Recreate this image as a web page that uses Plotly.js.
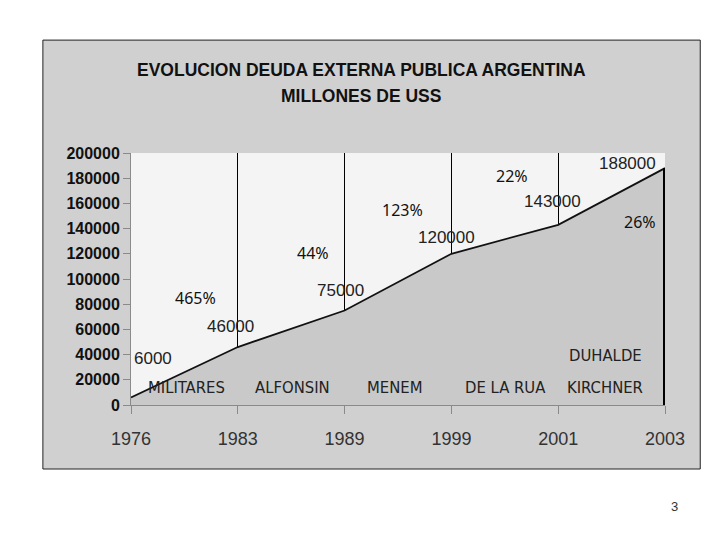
<!DOCTYPE html>
<html>
<head>
<meta charset="utf-8">
<script src="https://cdn.plot.ly/plotly-3.0.1.min.js"></script>
<style>
  html, body { margin: 0; padding: 0; background: #ffffff; }
  #plot { width: 720px; height: 540px; }
</style>
</head>
<body>
<div id="plot"></div>
<script>
// Data
let years = ["1976", "1983", "1989", "1999", "2001", "2003"];
let debt = [6000, 46000, 75000, 120000, 143000, 188000];
let growth = ["465%", "44%", "123%", "22%", "26%"];
let presidents = [["MILITARES"], ["ALFONSIN"], ["MENEM"], ["DE LA RUA"], ["DUHALDE", "KIRCHNER"]];

// Label placement (pixel offsets / positions in axis units)
let valueShift = [[1, 39, "left"], [-7, 21, "center"], [-4, 20, "center"], [-5, 16, "center"], [-6, 23, "center"], [-7, 5, "right"]];
let growthPos = [[0.60, 84900], [1.70, 120600], [2.54, 154800], [3.57, 181700], [4.77, 145200]];
let nameX = [0.52, 1.51, 2.47, 3.51, 4.44];

let area = {
  x: years,
  y: debt,
  type: "scatter",
  mode: "lines",
  fill: "tozeroy",
  fillcolor: "#c9c9c9",
  line: { color: "#111111", width: 1.8 },
  hoverinfo: "skip"
};

// thick edge at the last year
let last = years.length - 1;
let edge = {
  x: [years[last], years[last]],
  y: [0, debt[last]],
  type: "scatter",
  mode: "lines",
  line: { color: "#000000", width: 4 },
  hoverinfo: "skip"
};

let annotations = [];

debt.forEach(function (v, i) {
  annotations.push({
    x: i, y: v, xref: "x", yref: "y",
    text: String(v), showarrow: false,
    xanchor: valueShift[i][2], yanchor: "middle",
    xshift: valueShift[i][0], yshift: valueShift[i][1],
    font: { family: "Arial, Liberation Sans", size: 17, color: "#222222" }
  });
});

growth.forEach(function (g, i) {
  annotations.push({
    x: growthPos[i][0], y: growthPos[i][1], xref: "x", yref: "y",
    text: g, showarrow: false,
    font: { family: "Noto Sans", size: 16, color: "#111111" }
  });
});

presidents.forEach(function (names, i) {
  names.forEach(function (n, j) {
    let row = names.length - 1 - j;
    annotations.push({
      x: nameX[i], y: 13500, xref: "x", yref: "y",
      text: n, showarrow: false, yshift: row * 32,
      font: { family: "DejaVu Sans Condensed, DejaVu Sans", size: 16.5, color: "#222222" }
    });
  });
});

// title lines
annotations.push({
  x: 0.5, y: 1.0, xref: "paper", yref: "paper",
  xanchor: "center", yanchor: "middle",
  xshift: -37, yshift: 83,
  text: "<b>EVOLUCION DEUDA EXTERNA PUBLICA ARGENTINA</b>", showarrow: false,
  font: { family: "Arial, Liberation Sans", size: 17.5, color: "#111111" }
});
annotations.push({
  x: 0.5, y: 1.0, xref: "paper", yref: "paper",
  xanchor: "center", yanchor: "middle",
  xshift: -37, yshift: 57,
  text: "<b>MILLONES DE USS</b>", showarrow: false,
  font: { family: "Arial, Liberation Sans", size: 17.5, color: "#111111" }
});

// slide number
annotations.push({
  x: 1.0, y: 0, xref: "paper", yref: "paper",
  xanchor: "center", yanchor: "middle",
  xshift: 9, yshift: -101,
  text: "3", showarrow: false,
  font: { family: "Arial, Liberation Sans", size: 13, color: "#333333" }
});

let layout = {
  width: 720,
  height: 540,
  margin: { l: 131, r: 55, t: 153, b: 135 },
  paper_bgcolor: "#ffffff",
  plot_bgcolor: "rgba(0,0,0,0)",
  showlegend: false,
  xaxis: {
    type: "category",
    range: [0, 5],
    showgrid: true,
    gridcolor: "#000000",
    gridwidth: 1,
    showline: true,
    linecolor: "#8a8a8a",
    ticks: "outside",
    ticklen: 8,
    tickcolor: "#8a8a8a",
    ticklabelstandoff: 9,
    tickfont: { family: "Arial, Liberation Sans", size: 18, color: "#333333" },
    zeroline: false,
    fixedrange: true
  },
  yaxis: {
    range: [0, 200000],
    dtick: 20000,
    tickformat: "d",
    showgrid: false,
    showline: true,
    linecolor: "#8a8a8a",
    ticks: "outside",
    ticklen: 7,
    tickcolor: "#8a8a8a",
    tickfont: { family: "Arial, Liberation Sans", size: 16, color: "#111111", weight: "bold" },
    zeroline: false,
    fixedrange: true
  },
  shapes: [
    {
      type: "rect", xref: "paper", yref: "paper", layer: "below",
      x0: -0.165, x1: 1.066, y0: -0.254, y1: 1.448,
      fillcolor: "#d0d0d0", line: { color: "#222222", width: 1 }
    },
    {
      type: "rect", xref: "paper", yref: "paper", layer: "below",
      x0: 0, x1: 1, y0: 0, y1: 1,
      fillcolor: "#f4f4f4", line: { width: 0 }
    }
  ],
  annotations: annotations
};

Plotly.newPlot("plot", [area, edge], layout, { displayModeBar: false, staticPlot: true });
</script>
</body>
</html>
